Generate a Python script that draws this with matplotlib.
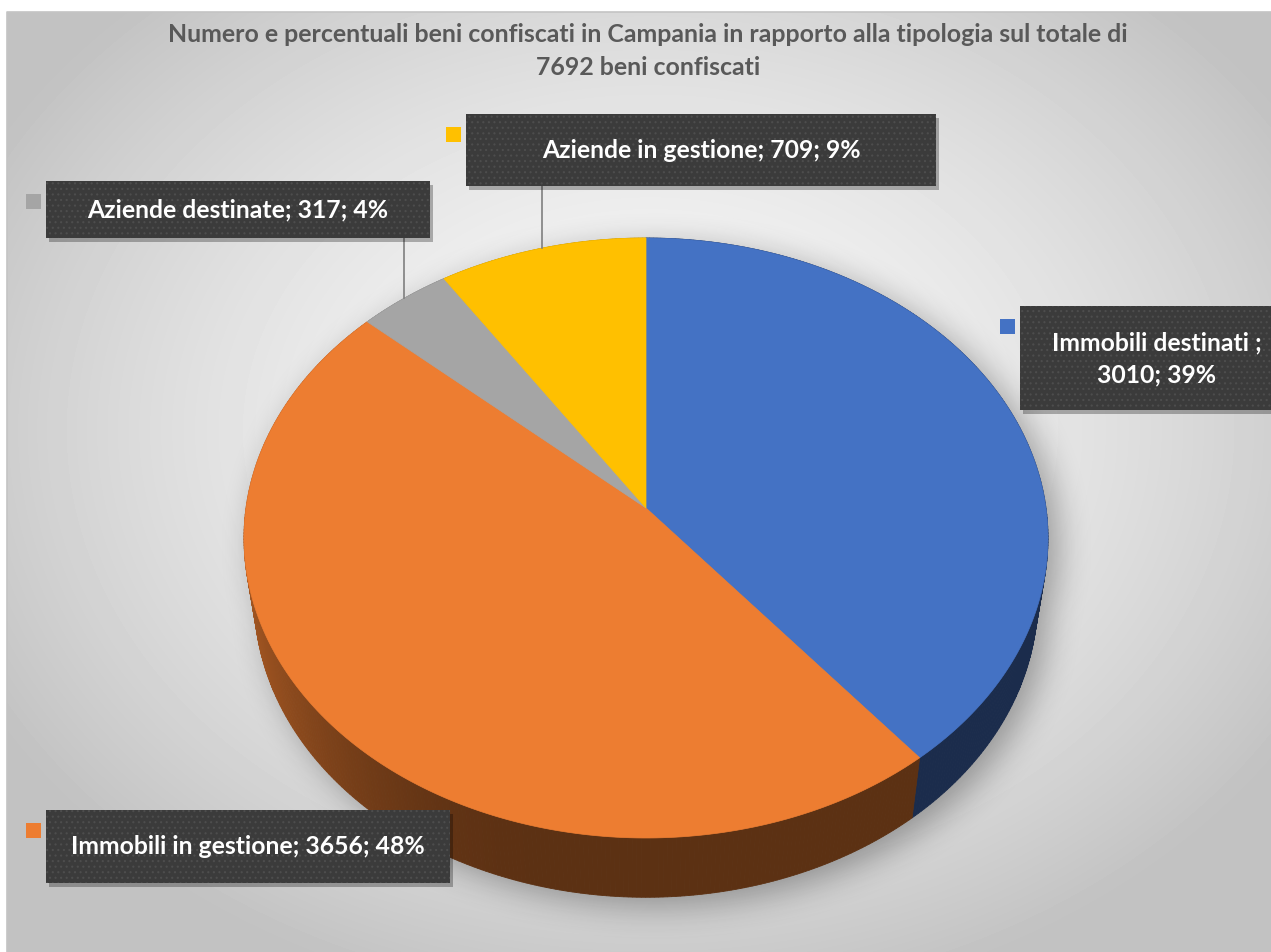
import numpy as np
import matplotlib.pyplot as plt
from matplotlib.patches import Rectangle, Polygon
from matplotlib.path import Path

plt.rcParams['font.family'] = ['Lato', 'DejaVu Sans']
plt.rcParams['hatch.linewidth'] = 0.8

# dati
categorie = ['Immobili destinati ', 'Immobili in gestione', 'Aziende destinate', 'Aziende in gestione']
valori = [3010, 3656, 317, 709]
colori = ['#4472C4', '#ED7D31', '#A5A5A5', '#FFC000']
totale = sum(valori)
titolo = ('Numero e percentuali beni confiscati in Campania in rapporto alla tipologia sul totale di\n'
          f'{totale} beni confiscati')

# riquadri etichette (x0, y0, x1, y1) in pixel e se disegnare la linea guida
riquadri = [(1020, 306, 1290, 410), (46, 810, 450, 883), (46, 181, 430, 238), (466, 114, 936, 186)]
guida = [False, False, True, True]

W, H_FIG = 1271, 952
fig = plt.figure(figsize=(W / 100, H_FIG / 100), dpi=100, facecolor='white')
ax = fig.add_axes([0, 0, 1, 1])
ax.set_xlim(0, W)
ax.set_ylim(H_FIG, 0)
ax.axis('off')

# sfondo con gradiente radiale
gx, gy = np.meshgrid(np.arange(7, W), np.arange(12, H_FIG))
rr = ((gx - 650) / 720.0) ** 2 + ((gy - 430) / 560.0) ** 2
bg = np.clip(0.975 - 0.2 * rr ** 0.8, 0.76, 1.0)
ax.imshow(bg, cmap='gray', vmin=0, vmax=1, extent=(7, W, H_FIG, 12), zorder=0, interpolation='bilinear')
ax.plot([7, 7, W], [H_FIG, 12, 12], color='#c4c4c4', lw=1.2, zorder=1)

# proiezione prospettica della torta 3D
CX, CY, R, SPESS = 646, 508, 400, 95
SE, CE, DIST = 0.7425, 0.6696, 2679


def proietta(theta, z):
    X = R * np.sin(theta)
    Y = R * np.cos(theta)
    v = Y * SE + z * CE
    d = Y * CE - z * SE
    f = DIST / (DIST + d)
    return CX + X * f, CY - v * f


# ombra sfumata sotto la torta
tt = np.linspace(0, 2 * np.pi, 400)
xs0, ys0 = proietta(tt, 0)
xs1, ys1 = proietta(tt, -SPESS)
px, py = np.meshgrid(np.arange(W), np.arange(H_FIG))
pts = np.column_stack([px.ravel() - 10, py.ravel() - 8])
mask = (Path(np.column_stack([xs0, ys0])).contains_points(pts) |
        Path(np.column_stack([xs1, ys1])).contains_points(pts)).reshape(H_FIG, W).astype(float)
k = np.ones(31) / 31
for _ in range(3):
    mask = np.apply_along_axis(lambda m: np.convolve(m, k, mode='same'), 0, mask)
    mask = np.apply_along_axis(lambda m: np.convolve(m, k, mode='same'), 1, mask)
ombra = np.zeros((H_FIG, W, 4))
ombra[..., 3] = 0.32 * mask
ax.imshow(ombra, extent=(0, W, H_FIG, 0), zorder=2, interpolation='bilinear')

# angoli delle fette, in senso orario dalle ore 12
cum = np.concatenate([[0], np.cumsum(valori)]) / totale * 2 * np.pi


def scurisci(col, fatt):
    c = np.array(plt.matplotlib.colors.to_rgb(col))
    return tuple(c * fatt)


# pareti laterali
quads = []
for i, col in enumerate(colori):
    n = max(int((cum[i + 1] - cum[i]) / 0.01), 2)
    th = np.linspace(cum[i], cum[i + 1], n)
    for a, b in zip(th[:-1], th[1:]):
        m = 0.5 * (a + b)
        deg = np.degrees(m)
        s = np.clip((deg - 195) / 70.0, 0, 1)
        s = s * s * (3 - 2 * s)
        fatt = 0.39 + 0.30 * s
        p = [proietta(a, 0), proietta(b, 0), proietta(b, -SPESS), proietta(a, -SPESS)]
        quads.append((np.cos(m), p, scurisci(col, fatt)))
quads.sort(key=lambda q: -q[0])
for _, p, c in quads:
    ax.add_patch(Polygon(p, closed=True, facecolor=c, edgecolor=c, lw=0.6, zorder=3))

# facce superiori
for i, col in enumerate(colori):
    th = np.linspace(cum[i], cum[i + 1], 200)
    x, y = proietta(th, 0)
    poly = np.column_stack([np.r_[CX, x], np.r_[CY, y]])
    ax.add_patch(Polygon(poly, closed=True, facecolor=col, edgecolor=col, lw=0.5, zorder=4))

# etichette
for i, (nome, val) in enumerate(zip(categorie, valori)):
    x0, y0, x1, y1 = riquadri[i]
    pct = round(val / totale * 100)
    if nome.endswith(' '):
        testo = f'{nome};\n{val}; {pct}%'
    else:
        testo = f'{nome}; {val}; {pct}%'
    if guida[i]:
        mid = 0.5 * (cum[i] + cum[i + 1])
        lx, ly = proietta(mid, 0)
        ax.plot([lx, lx], [y1, ly], color='#7f7f7f', lw=1.2, zorder=5)
    ax.add_patch(Rectangle((x0 + 3, y0 + 4), x1 - x0, y1 - y0, facecolor='black', alpha=0.28,
                           edgecolor='none', zorder=6))
    ax.add_patch(Rectangle((x0, y0), x1 - x0, y1 - y0, facecolor='#3b3b3b', edgecolor='none', zorder=7))
    ax.add_patch(Rectangle((x0, y0), x1 - x0, y1 - y0, facecolor='none', edgecolor='#4d4d4d',
                           hatch='...', lw=0, zorder=8))
    ax.add_patch(Rectangle((x0 - 20, y0 + 13), 15, 15, facecolor=colori[i], edgecolor='none', zorder=8))
    cx = 0.5 * (x0 + x1) if i != 0 else 1157
    cy = 0.5 * (y0 + y1) if i != 0 else 359
    ax.text(cx, cy, testo, color='white', fontsize=17.8, fontweight='bold',
            ha='center', va='center', linespacing=1.45, zorder=9)

ax.text(648, 51, titolo, color='#595959', fontsize=17.9, fontweight='bold',
        ha='center', va='center', linespacing=1.5, zorder=9)

fig.savefig('out.png', dpi=100, facecolor='white')
